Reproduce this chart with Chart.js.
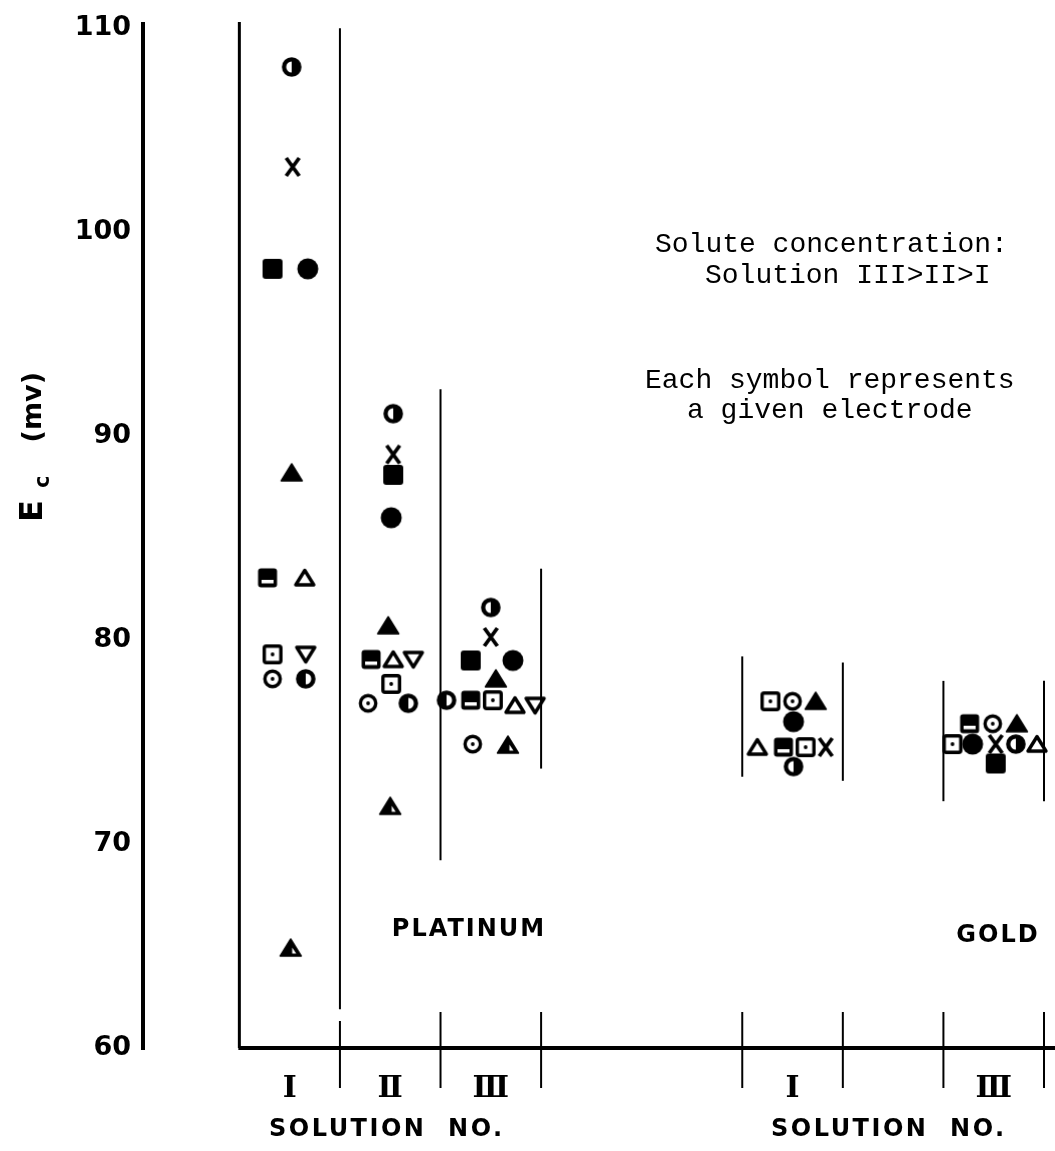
<!DOCTYPE html>
<html>
<head>
<meta charset="utf-8">
<script src="https://cdn.jsdelivr.net/npm/chart.js@4.4.1/dist/chart.umd.min.js"></script>
<style>
  html, body { margin: 0; padding: 0; background: #fff; }
</style>
</head>
<body>
<canvas id="myChart" width="1055" height="1151"></canvas>
<script>
// groups along the x axis: Pt I, Pt II, Pt III, Au I, Au III
var groupLabels = ['Ⅰ', 'Ⅱ', 'Ⅲ', 'Ⅰ', 'Ⅲ'];
var groupCenters = [0.5, 1.5, 2.5, 5.5, 7.5];
var yTicks = [60, 70, 80, 90, 100, 110];

// E_c (mv) for each electrode, one value per group (null = not plotted)
var halfLeftCircle  = [108.1, 91.1, 81.6, 73.8, 74.9];
var cross           = [103.2, 89.1, 80.15, 74.75, 74.9];
var filledSquare    = [98.2, 88.1, 79.0, null, 73.95];
var filledCircle    = [98.2, 86.0, 79.0, 76.0, 74.9];
var filledTriangle  = [88.2, 80.7, 78.1, 77.0, 75.9];
var halfSquare      = [83.05, 79.05, 77.05, 74.75, 75.9];
var openTriangle    = [83.05, 79.05, 76.8, 74.75, 74.9];
var openDownTri     = [79.3, 79.05, 76.8, null, null];
var dotSquare       = [79.3, 77.85, 77.05, 77.0, 74.9];
var dotSquareB      = [null, null, null, 74.75, null];
var dotCircle       = [78.1, 76.9, 74.9, 77.0, 75.9];
var halfRightCircle = [78.1, 76.9, 77.05, null, null];
var halfTriangle    = [64.9, 71.85, 74.85, null, null];

// horizontal spread of the symbols inside a group (x units, 1 = group width)
var spread = {
  halfLeftCircle:  [0.02, 0.03, 0.0, 0.01, 0.22],
  cross:           [0.03, 0.03, 0.0, 0.33, 0.02],
  filledSquare:    [-0.17, 0.03, -0.2, 0, 0.02],
  filledCircle:    [0.18, 0.01, 0.22, 0.01, -0.21],
  filledTriangle:  [0.02, -0.02, 0.05, 0.23, 0.23],
  halfSquare:      [-0.22, -0.19, -0.2, -0.09, -0.24],
  openTriangle:    [0.15, 0.03, 0.24, -0.35, 0.43],
  openDownTri:     [0.16, 0.23, 0.44, 0, 0],
  dotSquare:       [-0.17, 0.01, 0.02, -0.22, -0.41],
  dotSquareB:      [0, 0, 0, 0.13, 0],
  dotCircle:       [-0.17, -0.22, -0.18, 0.0, -0.01],
  halfRightCircle: [0.16, 0.18, -0.44, 0, 0],
  halfTriangle:    [0.01, 0.0, 0.17, 0, 0]
};

// vertical frame lines: [x, top value, bottom value]
var frameLines = [[0, 110.3, 60], [1, 110, 61.9], [2, 92.3, 69.2], [3, 83.5, 73.7],
                  [5, 79.2, 73.3], [6, 78.9, 73.1], [7, 78.0, 72.1], [8, 78.0, 72.1]];
var tickLines = [1, 2, 3, 5, 6, 7, 8];

function rrect(g, x, y, w, h, r) {
  g.beginPath();
  g.moveTo(x + r, y);
  g.arcTo(x + w, y, x + w, y + h, r);
  g.arcTo(x + w, y + h, x, y + h, r);
  g.arcTo(x, y + h, x, y, r);
  g.arcTo(x, y, x + w, y, r);
  g.closePath();
}

// draw each electrode symbol once on a small canvas
function makeSymbol(kind) {
  var c = document.createElement('canvas');
  c.width = 26; c.height = 26;
  var g = c.getContext('2d');
  g.translate(13, 13);
  g.fillStyle = '#000';
  g.strokeStyle = '#000';
  g.lineJoin = 'round';
  g.lineCap = 'round';
  if (kind == 'filledCircle') {
    g.beginPath(); g.arc(0, 0, 10.5, 0, Math.PI * 2); g.fill();
  } else if (kind == 'filledSquare') {
    rrect(g, -10, -10, 20, 20, 3); g.fill();
  } else if (kind == 'halfSquare') {
    rrect(g, -9.5, -9.5, 19, 19, 3); g.fill();
    g.fillStyle = '#fff'; g.fillRect(-6, 2, 12, 3.5);
  } else if (kind == 'cross') {
    g.lineWidth = 3.8; g.lineCap = 'butt';
    g.beginPath();
    g.moveTo(-6.5, -9); g.lineTo(6.5, 9);
    g.moveTo(6.5, -9); g.lineTo(-6.5, 9);
    g.stroke();
  } else if (kind == 'filledTriangle' || kind == 'halfTriangle') {
    g.lineWidth = 1.5;
    g.beginPath(); g.moveTo(0, -9); g.lineTo(10.5, 8); g.lineTo(-10.5, 8); g.closePath();
    g.fill(); g.stroke();
    if (kind == 'halfTriangle') {
      g.fillStyle = '#fff';
      g.beginPath(); g.moveTo(1.5, -0.5); g.lineTo(5.5, 5.5); g.lineTo(1.5, 5.5); g.closePath(); g.fill();
    }
  } else if (kind == 'openTriangle') {
    g.lineWidth = 3.4;
    g.beginPath(); g.moveTo(0, -7.5); g.lineTo(9, 7); g.lineTo(-9, 7); g.closePath(); g.stroke();
  } else if (kind == 'openDownTri') {
    g.lineWidth = 3.4;
    g.beginPath(); g.moveTo(-9, -7); g.lineTo(9, -7); g.lineTo(0, 7.5); g.closePath(); g.stroke();
  } else if (kind == 'dotSquare' || kind == 'dotSquareB') {
    g.lineWidth = 3.4;
    rrect(g, -8.3, -8.3, 16.6, 16.6, 2); g.stroke();
    g.beginPath(); g.arc(0, 0, 1.9, 0, Math.PI * 2); g.fill();
  } else if (kind == 'dotCircle') {
    g.lineWidth = 3.4;
    g.beginPath(); g.arc(0, 0, 7.7, 0, Math.PI * 2); g.stroke();
    g.beginPath(); g.arc(0, 0, 1.9, 0, Math.PI * 2); g.fill();
  } else if (kind == 'halfLeftCircle' || kind == 'halfRightCircle') {
    g.beginPath(); g.arc(0, 0, 9.8, 0, Math.PI * 2); g.fill();
    g.fillStyle = '#fff';
    g.beginPath();
    if (kind == 'halfLeftCircle') g.arc(0, 0, 5.5, Math.PI / 2, Math.PI * 1.5);
    else g.arc(0, 0, 5.5, -Math.PI / 2, Math.PI / 2);
    g.closePath(); g.fill();
  }
  return c;
}

var electrodes = {
  halfLeftCircle: halfLeftCircle, cross: cross, filledSquare: filledSquare,
  filledCircle: filledCircle, filledTriangle: filledTriangle, halfSquare: halfSquare,
  openTriangle: openTriangle, openDownTri: openDownTri, dotSquare: dotSquare,
  dotSquareB: dotSquareB, dotCircle: dotCircle, halfRightCircle: halfRightCircle,
  halfTriangle: halfTriangle
};

var datasets = Object.keys(electrodes).map(function(name) {
  var vals = electrodes[name];
  var pts = [];
  vals.forEach(function(v, i) {
    if (v != null) pts.push({ x: groupCenters[i] + spread[name][i], y: v });
  });
  return {
    label: name,
    data: pts,
    pointStyle: makeSymbol(name),
    pointRadius: 10,
    showLine: false,
    clip: false
  };
});

// axis lines, group frames and all the free text
var framePlugin = {
  id: 'frame',
  beforeDatasetsDraw: function(chart) {
    var ctx = chart.ctx, xs = chart.scales.x, ys = chart.scales.y;
    var axisY = ys.getPixelForValue(60);
    ctx.save();
    ctx.strokeStyle = '#000';
    ctx.lineCap = 'butt';
    // y axis
    ctx.lineWidth = 4;
    ctx.beginPath();
    ctx.moveTo(chart.chartArea.left, ys.getPixelForValue(110.3));
    ctx.lineTo(chart.chartArea.left, axisY + 2);
    ctx.stroke();
    // x axis
    ctx.beginPath();
    ctx.moveTo(xs.getPixelForValue(0) - 1, axisY);
    ctx.lineTo(chart.width, axisY);
    ctx.stroke();
    // frames
    frameLines.forEach(function(f) {
      ctx.lineWidth = f[0] == 0 ? 3 : 2;
      var x = xs.getPixelForValue(f[0]);
      ctx.beginPath();
      ctx.moveTo(x, ys.getPixelForValue(f[1]));
      ctx.lineTo(x, ys.getPixelForValue(f[2]));
      ctx.stroke();
    });
    ctx.lineWidth = 2;
    tickLines.forEach(function(t) {
      var x = xs.getPixelForValue(t);
      ctx.beginPath();
      ctx.moveTo(x, axisY - (t == 1 ? 27 : 36));
      ctx.lineTo(x, axisY + 40);
      ctx.stroke();
    });
    ctx.restore();
  },
  afterDraw: function(chart) {
    var ctx = chart.ctx;
    ctx.save();
    ctx.fillStyle = '#000';
    ctx.textBaseline = 'middle';
    ctx.textAlign = 'center';
    ctx.font = 'bold 24px "DejaVu Sans"';
    ctx.letterSpacing = '2px';
    ctx.fillText('PLATINUM', 469, 930);
    ctx.fillText('GOLD', 998, 936);
    ctx.textAlign = 'left';
    ctx.letterSpacing = '2.5px';
    ctx.fillText('SOLUTION  NO.', 269, 1130);
    ctx.fillText('SOLUTION  NO.', 771, 1130);
    ctx.letterSpacing = '0px';

    // typed notes
    ctx.textBaseline = 'alphabetic';
    ctx.font = '28px "Liberation Mono"';
    ctx.fillText('Solute concentration:', 655, 252);
    ctx.fillText('Solution III>II>I', 705, 283);
    ctx.fillText('Each symbol represents', 645, 388);
    ctx.fillText('a given electrode', 687, 418);

    // y axis title, rotated
    ctx.translate(31, 446);
    ctx.rotate(-Math.PI / 2);
    ctx.textAlign = 'left';
    ctx.font = 'bold 32px "DejaVu Sans"';
    ctx.fillText('E', -76, 11);
    ctx.font = 'bold 21px "DejaVu Sans"';
    ctx.fillText('c', -42, 18);
    ctx.font = 'bold 27px "DejaVu Sans"';
    ctx.textAlign = 'right';
    ctx.fillText('(mv)', 74, 10);
    ctx.restore();
  }
};

var ctx = document.getElementById('myChart').getContext('2d');

var myChart = new Chart(ctx, {
  type: 'scatter',
  data: { datasets: datasets },
  options: {
    responsive: false,
    animation: false,
    devicePixelRatio: 1,
    layout: { padding: { left: 0, right: 5, top: 23, bottom: 0 } },
    plugins: { legend: { display: false }, tooltip: { enabled: false } },
    scales: {
      x: {
        type: 'linear',
        min: -0.958,
        max: 8,
        grid: { display: false, drawTicks: false },
        border: { display: false },
        afterBuildTicks: function(scale) {
          scale.ticks = groupCenters.map(function(v) { return { value: v }; });
        },
        afterFit: function(scale) { scale.height = 103; },
        ticks: {
          autoSkip: false,
          maxRotation: 0,
          padding: 23,
          color: '#000',
          font: { family: 'DejaVu Serif', weight: 'bold', size: 30 },
          callback: function(v, i) { return groupLabels[i]; }
        }
      },
      y: {
        min: 60,
        max: 110,
        grid: { display: false, drawTicks: false },
        border: { display: false },
        afterBuildTicks: function(scale) {
          scale.ticks = yTicks.map(function(v) { return { value: v }; });
        },
        afterFit: function(scale) { scale.width = 143; },
        ticks: {
          padding: 12,
          color: '#000',
          font: { family: 'DejaVu Sans', weight: 'bold', size: 27 }
        }
      }
    }
  },
  plugins: [framePlugin]
});
</script>
</body>
</html>
